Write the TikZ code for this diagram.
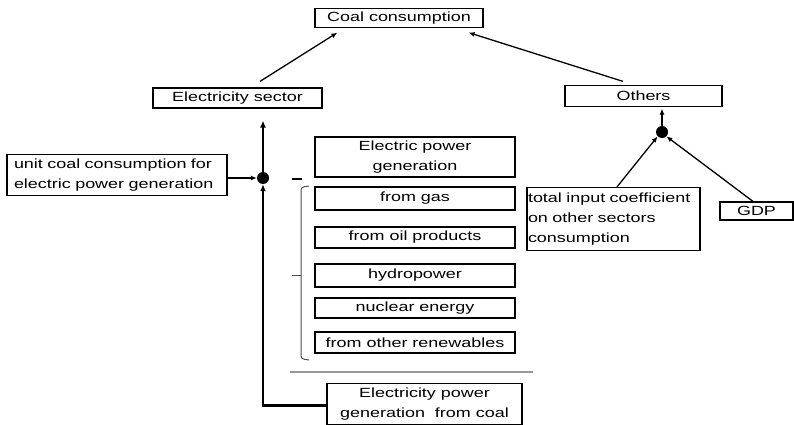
\documentclass[tikz,border=0pt]{standalone}
\usepackage{fontspec}
\setmainfont{Liberation Sans}[FakeStretch=1.35]
\usetikzlibrary{arrows.meta,calc}
\tikzset{
  box/.style={draw, line width=1.2pt, inner sep=0pt, align=center, font=\fontsize{13.3}{20}\selectfont},
  lbox/.style={box, align=left, text width=#1},
  arr/.style={line width=1.3pt, -{Latex[length=6pt,width=5pt]}},
  thick arr/.style={line width=2.4pt, -{Latex[length=7pt,width=6pt]}},
  dot/.style={circle, fill=black, inner sep=0pt, minimum size=12pt},
}
\begin{document}
\begin{tikzpicture}[x=1pt,y=-1pt]
\useasboundingbox (0,0) rectangle (794,425);
\node[box, minimum width=168, minimum height=19] (coal) at (399,18) {Coal consumption};
\node[box, minimum width=169, minimum height=20] (elec) at (237.5,98) {Electricity sector};
\node[box, minimum width=157, minimum height=21] (others) at (643.5,96) {Others};
\node[lbox=206pt, minimum width=220, minimum height=41] (unit) at (117,175) {unit coal consumption for\\electric power generation};
\node[box, minimum width=200, minimum height=40] (epg) at (415,157) {Electric power\\generation};
\node[box, minimum width=200, minimum height=23] (gas) at (415,198.5) {from gas};
\node[box, minimum width=200, minimum height=21] (oil) at (415,237.5) {from oil products};
\node[box, minimum width=200, minimum height=23] (hydro) at (415,275.5) {hydropower};
\node[box, minimum width=200, minimum height=20] (nuc) at (415,308) {nuclear energy};
\node[box, minimum width=200, minimum height=21] (ren) at (415,342.5) {from other renewables};
\node[box, minimum width=195, minimum height=41] (cgen) at (424.5,404) {Electricity power\\generation\ \ from coal};
\node[lbox=171pt, minimum width=173, minimum height=63] (total) at (613.5,219) {total input coefficient\\on other sectors\\consumption};
\node[box, minimum width=73, minimum height=18] (gdp) at (756.5,211) {GDP};
\node[dot] (d1) at (263,178) {};
\node[dot] (d2) at (662,132) {};
% connectors
\draw[arr] ([shift={(22.5,-6)}]elec.north) -- ([shift={(23,4.5)}]coal.south west);
\draw[arr] ([shift={(-20.5,-3.5)}]others.north) -- ([shift={(-15,4.5)}]coal.south east);
\draw[arr] (d2.north) -- ([yshift=-1.5]others.south -| d2);
\draw[arr] ([xshift=3.5]total.north) -- (d2.south west);
\draw[arr] ([xshift=-3.5]gdp.north) -- (d2.south east);
\draw[arr] (unit.east |- d1) -- (d1.west);
\draw[thick arr] ([yshift=-1.5]cgen.west) -| (d1.south);
\draw[thick arr] (d1.north) -- ([yshift=-12]elec.south -| d1);
% bracket
\coordinate (bt) at (309,186);
\coordinate (bb) at (309,360);
\draw[line width=1pt, black!70] (bt) .. controls (301,187) .. (301,194) -- (301,352) .. controls (301,359) .. (bb);
\draw[line width=1pt, black!70] (292,275) -- (301,275);
\draw[line width=1.2pt] (292,179) -- (302,179);
\draw[line width=2pt, black!40] (290,372) -- (533,372);
\end{tikzpicture}
\end{document}
